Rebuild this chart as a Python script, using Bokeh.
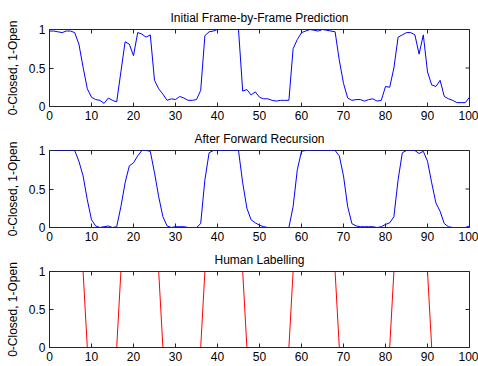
from bokeh.plotting import figure
from bokeh.layouts import column
from bokeh.models import Range1d, FixedTicker
from bokeh.embed import file_html
from bokeh.resources import INLINE

frames = list(range(101))

initial_pred = [
    0.98, 0.98, 0.97, 0.96, 0.98, 0.98, 0.96, 0.81, 0.51, 0.23,
    0.12, 0.09, 0.08, 0.04, 0.11, 0.08, 0.06, 0.45, 0.84, 0.81,
    0.66, 0.96, 0.94, 0.90, 0.93, 0.34, 0.23, 0.16, 0.08, 0.10,
    0.09, 0.13, 0.11, 0.08, 0.08, 0.09, 0.21, 0.92, 0.97, 0.98,
    1.00, 1.00, 1.00, 1.00, 1.00, 1.00, 0.20, 0.22, 0.15, 0.19,
    0.12, 0.10, 0.10, 0.08, 0.07, 0.08, 0.08, 0.08, 0.75, 0.87,
    0.96, 0.98, 1.00, 0.99, 0.98, 1.00, 0.99, 0.98, 0.97, 0.60,
    0.30, 0.11, 0.08, 0.09, 0.09, 0.07, 0.09, 0.10, 0.07, 0.08,
    0.26, 0.25, 0.50, 0.90, 0.93, 0.96, 0.96, 0.93, 0.68, 0.93,
    0.45, 0.28, 0.26, 0.34, 0.13, 0.10, 0.08, 0.05, 0.05, 0.05,
    0.12,
]

forward_rec = [
    1.00, 1.00, 1.00, 1.00, 1.00, 1.00, 1.00, 0.86, 0.67, 0.36,
    0.10, 0.02, 0.00, 0.01, 0.02, 0.00, 0.01, 0.27, 0.58, 0.80,
    0.84, 0.93, 1.00, 1.00, 0.99, 0.71, 0.40, 0.14, 0.02, 0.00,
    0.01, 0.01, 0.01, 0.00, 0.00, 0.00, 0.05, 0.62, 0.97, 1.00,
    1.00, 1.00, 1.00, 1.00, 1.00, 1.00, 0.58, 0.25, 0.10, 0.06,
    0.03, 0.01, 0.00, 0.00, 0.00, 0.00, 0.00, 0.00, 0.27, 0.75,
    0.99, 1.00, 1.00, 1.00, 1.00, 1.00, 1.00, 1.00, 1.00, 0.93,
    0.67, 0.27, 0.05, 0.02, 0.01, 0.01, 0.01, 0.01, 0.00, 0.01,
    0.04, 0.06, 0.14, 0.62, 0.97, 1.00, 1.00, 1.00, 0.96, 0.99,
    0.86, 0.58, 0.32, 0.21, 0.05, 0.01, 0.00, 0.00, 0.00, 0.00,
    0.02,
]

# 1 = open, 0 = closed, one label per frame
human_label = (
    [1] * 9 + [0] * 8 + [1] * 10 + [0] * 10 + [1] * 10 +
    [0] * 11 + [1] * 11 + [0] * 13 + [1] * 9 + [0] * 10
)

x_ticks = [0, 10, 20, 30, 40, 50, 60, 70, 80, 90, 100]
y_ticks = [0, 0.5, 1]
y_tick_labels = ["0", "0.5", "1"]
titles = ["Initial Frame-by-Frame Prediction", "After Forward Recursion", "Human Labelling"]
y_label = "0-Closed, 1-Open"

FONT = "Liberation Sans"
FS = "12px"
AXC = "#262626"
X_MIN, X_MAX, Y_MIN, Y_MAX = 0, 100, 0, 1


def make_fig(title, top, fh, bottom):
    p = figure(frame_width=420, frame_height=fh, output_backend="svg",
               toolbar_location=None, x_range=Range1d(X_MIN, X_MAX), y_range=Range1d(Y_MIN, Y_MAX),
               min_border_left=49, min_border_right=9,
               min_border_top=top, min_border_bottom=bottom,
               background_fill_color="white", border_fill_color="white")
    p.title.text = title
    p.title.align = "center"
    p.title.text_font = FONT
    p.title.text_font_size = FS
    p.title.text_font_style = "normal"
    p.title.text_color = "#000000"
    p.title.offset = 0
    p.title.standoff = 10
    p.grid.visible = False
    p.outline_line_color = AXC
    p.outline_line_width = 1

    xa = p.xaxis[0]
    xa.ticker = FixedTicker(ticks=x_ticks)
    ya = p.yaxis[0]
    ya.ticker = FixedTicker(ticks=y_ticks)
    ya.major_label_overrides = {t: s for t, s in zip(y_ticks, y_tick_labels)}
    ya.axis_label = y_label
    ya.axis_label_text_font = FONT
    ya.axis_label_text_font_size = FS
    ya.axis_label_text_font_style = "normal"
    ya.axis_label_text_color = "#000000"
    ya.axis_label_standoff = 6

    for ax in (xa, ya):
        ax.axis_line_color = AXC
        ax.major_tick_line_color = AXC
        ax.major_tick_in = 4
        ax.major_tick_out = 0
        ax.minor_tick_line_color = None
        ax.major_label_text_font = FONT
        ax.major_label_text_color = "#000000"
        ax.major_label_text_font_size = FS
    xa.major_label_standoff = 4
    ya.major_label_standoff = 4

    # inward ticks on the top and right edges of the box (clipped to the frame)
    p.scatter(x=x_ticks, y=[Y_MAX] * len(x_ticks), marker="dash", size=8, angle=1.5708,
              line_color=AXC, line_width=1)
    p.scatter(x=[X_MAX] * len(y_ticks), y=y_ticks, marker="dash", size=8,
              line_color=AXC, line_width=1)
    return p


p1 = make_fig(titles[0], 29, 77, 18)
p1.line(frames, initial_pred, line_color="#0000FF", line_width=1)

p2 = make_fig(titles[1], 26, 77, 18)
p2.line(frames, forward_rec, line_color="#0000FF", line_width=1)

p3 = make_fig(titles[2], 26, 76, 18)
x0, y0, x1, y1 = [], [], [], []
for i in range(len(frames) - 1):
    if human_label[i] != human_label[i + 1]:
        x0.append(frames[i]); y0.append(human_label[i])
        x1.append(frames[i + 1]); y1.append(human_label[i + 1])
p3.segment(x0=x0, y0=y0, x1=x1, y1=y1, line_color="#FF0000", line_width=1)

layout = column(p1, p2, p3, spacing=0)
open("out.html", "w").write(file_html(layout, INLINE))
